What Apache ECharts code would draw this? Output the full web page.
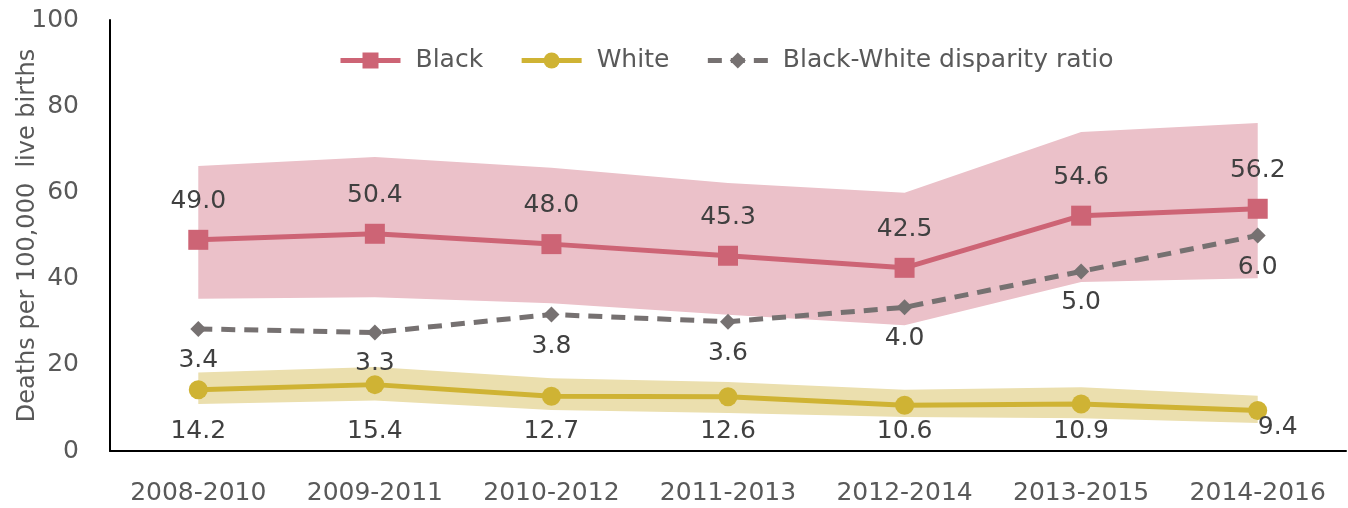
<!DOCTYPE html>
<html>
<head>
<meta charset="utf-8">
<script src="https://cdn.jsdelivr.net/npm/echarts@6/dist/echarts.min.js"></script>
<style>html,body{margin:0;padding:0;background:#fff}#c{width:1348px;height:508px}</style>
</head>
<body>
<div id="c"></div>
<script>
const categories = ['2008-2010','2009-2011','2010-2012','2011-2013','2012-2014','2013-2015','2014-2016'];
const black = [49.0, 50.4, 48.0, 45.3, 42.5, 54.6, 56.2];
const white = [14.2, 15.4, 12.7, 12.6, 10.6, 10.9, 9.4];
const ratio = [3.4, 3.3, 3.8, 3.6, 4.0, 5.0, 6.0];
const blackLower = [35.3, 35.7, 34.3, 31.6, 29.2, 39.2, 40.1];
const blackUpper = [66.1, 68.2, 65.7, 62.2, 59.9, 74.0, 76.1];
const whiteLower = [10.9, 11.7, 9.5, 8.8, 7.9, 7.6, 6.5];
const whiteUpper = [18.2, 19.5, 16.9, 16.0, 14.2, 14.8, 12.8];
const yTicks = [0, 20, 40, 60, 80, 100];

const FONT = 'DejaVu Sans';
const TXT = '#595959';
const LBL = '#404040';
const chart = echarts.init(document.getElementById('c'));

function band(name, lower, upper, color) {
  return [
    {name: name + 'L', type: 'line', stack: name, data: lower, symbol: 'none', lineStyle: {opacity: 0}, z: 1, silent: true},
    {name: name + 'U', type: 'line', stack: name, data: upper.map((u, i) => +(u - lower[i]).toFixed(2)),
     symbol: 'none', lineStyle: {opacity: 0}, areaStyle: {color: color, opacity: 1}, z: 1, silent: true}
  ];
}

chart.setOption({
  animation: false,
  grid: {left: 110, right: 2, top: 20, bottom: 57, outerBoundsMode: 'none', containLabel: false},
  legend: {
    data: ['Black', 'White', 'Black-White disparity ratio'],
    left: 333, top: 43, itemWidth: 60, itemHeight: 20, itemGap: 36,
    lineStyle: {width: 5},
    textStyle: {fontFamily: FONT, fontSize: 25, color: TXT, padding: [0, 0, 0, 10]}
  },
  xAxis: {
    type: 'category', data: categories, boundaryGap: true,
    axisLine: {show: true, lineStyle: {color: '#000', width: 2}},
    axisTick: {show: false},
    axisLabel: {fontFamily: FONT, fontSize: 25, color: TXT, margin: 30, interval: 0, hideOverlap: false}
  },
  yAxis: [{
    type: 'value', min: 0, max: 100, interval: 20,
    name: 'Deaths per 100,000  live births', nameLocation: 'middle', nameGap: 70,
    nameMoveOverlap: false,
    nameTextStyle: {fontFamily: FONT, fontSize: 24, color: TXT},
    axisLine: {show: true, lineStyle: {color: '#000', width: 2}},
    axisTick: {show: false}, splitLine: {show: false},
    axisLabel: {fontFamily: FONT, fontSize: 25, color: TXT, margin: 31,
      formatter: v => yTicks.includes(v) ? String(v) : ''}
  }, {
    type: 'value', min: 0, max: 12, show: false
  }],
  series: [
    ...band('bb', blackLower, blackUpper, '#ebc1c9'),
    ...band('wb', whiteLower, whiteUpper, '#ebdfae'),
    {name: 'Black', type: 'line', data: black, z: 5, symbol: 'rect', symbolSize: 20,
     itemStyle: {color: '#cd6475'}, lineStyle: {color: '#cd6475', width: 5},
     label: {show: true, position: 'top', distance: 16, fontFamily: FONT, fontSize: 25, color: LBL,
       formatter: p => p.value.toFixed(1)}},
    {name: 'White', type: 'line', data: white, z: 5, symbol: 'circle', symbolSize: 19,
     itemStyle: {color: '#cfb334'}, lineStyle: {color: '#cfb334', width: 5},
     label: {show: true, position: 'bottom', distance: 20, fontFamily: FONT, fontSize: 25, color: LBL,
       formatter: p => p.value.toFixed(1)},
     labelLayout: p => p.dataIndex === white.length - 1
       ? {x: p.rect.x + p.rect.width / 2 + 20, y: 427, align: 'center', verticalAlign: 'middle'}
       : {x: p.rect.x + p.rect.width / 2, y: 431, align: 'center', verticalAlign: 'middle'}},
    {name: 'Black-White disparity ratio', type: 'line', yAxisIndex: 1, data: ratio, z: 4,
     symbol: 'diamond', symbolSize: 16,
     itemStyle: {color: '#767171'}, lineStyle: {color: '#767171', width: 5, type: [14, 9]},
     label: {show: true, position: 'bottom', distance: 11, fontFamily: FONT, fontSize: 25, color: LBL,
       formatter: p => p.value.toFixed(1)}}
  ]
});
</script>
</body>
</html>
